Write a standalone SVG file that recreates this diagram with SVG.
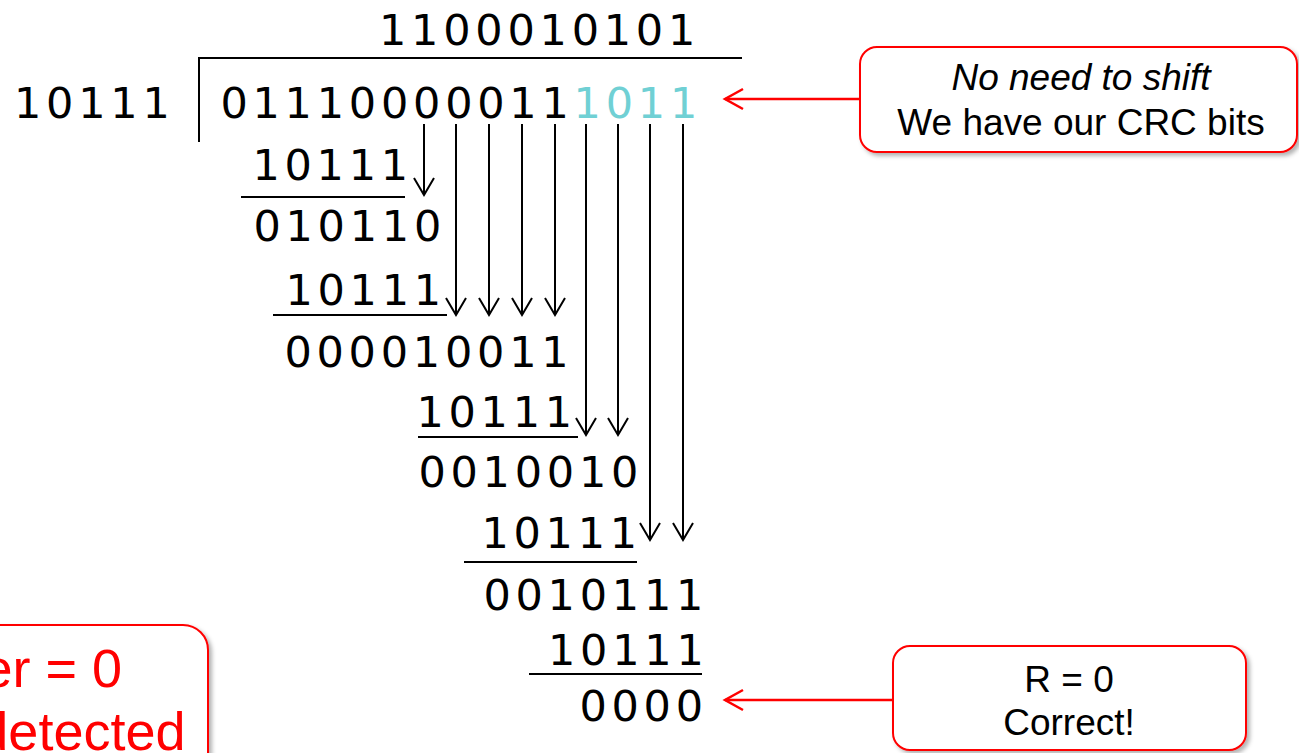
<svg xmlns="http://www.w3.org/2000/svg" width="1299" height="753" viewBox="0 0 1299 753">
<style>
.d{font-family:"DejaVu Sans",Verdana,sans-serif;font-size:43px;letter-spacing:4.75px;fill:#000}
.c{fill:#70D0D4}
.ln{stroke:#000;stroke-width:2;fill:none}
.ar{stroke:#000;stroke-width:2;fill:none;marker-end:url(#ah)}
.rar{stroke:#FF0000;stroke-width:2.5;fill:none;marker-end:url(#rah)}
.box{fill:#fff;stroke:#FF0000;stroke-width:2;filter:url(#sh)}
.t{font-family:"Liberation Sans",Arial,sans-serif;font-size:37px;fill:#000;text-anchor:middle}
.rt{font-family:"Liberation Sans",Arial,sans-serif;font-size:54px;fill:#FF0000;text-anchor:end}
</style>
<defs>
<marker id="ah" markerUnits="userSpaceOnUse" viewBox="-20 -12 24 24" markerWidth="24" markerHeight="24" refX="0" refY="0" orient="auto" overflow="visible">
<path d="M-17,-10 L0,0 L-17,10" fill="none" stroke="#000" stroke-width="2"/>
</marker>
<marker id="rah" markerUnits="userSpaceOnUse" viewBox="-20 -12 24 24" markerWidth="24" markerHeight="24" refX="0" refY="0" orient="auto" overflow="visible">
<path d="M-18,-10 L0,0 L-18,10" fill="none" stroke="#FF0000" stroke-width="2.5"/>
</marker>
<filter id="sh" x="-10%" y="-10%" width="125%" height="130%">
<feDropShadow dx="3" dy="3" stdDeviation="2" flood-color="#000" flood-opacity="0.3"/>
</filter>
</defs>
<rect width="1299" height="753" fill="#fff"/>
<g id="quotient"><text class="d" x="379" y="45">1100010101</text></g>
<g id="divisor"><text class="d" x="14" y="118">10111</text></g>
<g id="division-bracket">
<path class="ln" d="M199,142 L199,58 L742,58"/>
</g>
<g id="dividend"><text class="d" x="220.4" y="118">01110000011<tspan class="c">1011</tspan></text></g>
<g id="step1">
<text class="d" x="252.4" y="180">10111</text>
<line class="ln" x1="241" y1="197" x2="405" y2="197"/>
<text class="d" x="253.4" y="241">010110</text>
</g>
<g id="step2">
<text class="d" x="285.4" y="305">10111</text>
<line class="ln" x1="273" y1="315" x2="447" y2="315"/>
<text class="d" x="284.4" y="367">000010011</text>
</g>
<g id="step3">
<text class="d" x="416.4" y="427">10111</text>
<line class="ln" x1="418" y1="437" x2="578" y2="437"/>
<text class="d" x="418.4" y="487">0010010</text>
</g>
<g id="step4">
<text class="d" x="481.4" y="548">10111</text>
<line class="ln" x1="464" y1="562" x2="637" y2="562"/>
<text class="d" x="483.4" y="610">0010111</text>
</g>
<g id="step5">
<text class="d" x="548" y="665">10111</text>
<line class="ln" x1="529" y1="674" x2="702" y2="674"/>
<text class="d" x="579.4" y="721">0000</text>
</g>
<g id="callout-shift">
<rect class="box" x="860" y="47" width="437" height="105" rx="17"/>
<text class="t" x="1081" y="90" font-style="italic">No need to shift</text>
<text class="t" x="1081" y="135">We have our CRC bits</text>
</g>
<g id="callout-correct">
<rect class="box" x="893" y="646" width="353" height="104" rx="17"/>
<text class="t" x="1069" y="692">R = 0</text>
<text class="t" x="1069" y="735">Correct!</text>
</g>
<g id="callout-left">
<rect class="box" x="-40" y="625" width="248" height="170" rx="25"/>
<text class="rt" x="122" y="687">er = 0</text>
<text class="rt" x="185.5" y="750">detected</text>
</g>
<g id="connectors">
<line class="ar" x1="424" y1="124" x2="424" y2="195"/>
<line class="ar" x1="456" y1="124" x2="456" y2="315"/>
<line class="ar" x1="489" y1="124" x2="489" y2="315"/>
<line class="ar" x1="522" y1="124" x2="522" y2="315"/>
<line class="ar" x1="555" y1="124" x2="555" y2="315"/>
<line class="ar" x1="586" y1="124" x2="586" y2="435"/>
<line class="ar" x1="618" y1="124" x2="618" y2="435"/>
<line class="ar" x1="650" y1="124" x2="650" y2="540"/>
<line class="ar" x1="683" y1="124" x2="683" y2="540"/>
<line class="rar" x1="860" y1="99" x2="725" y2="99"/>
<line class="rar" x1="893" y1="700" x2="725" y2="700"/>
</g>
</svg>
